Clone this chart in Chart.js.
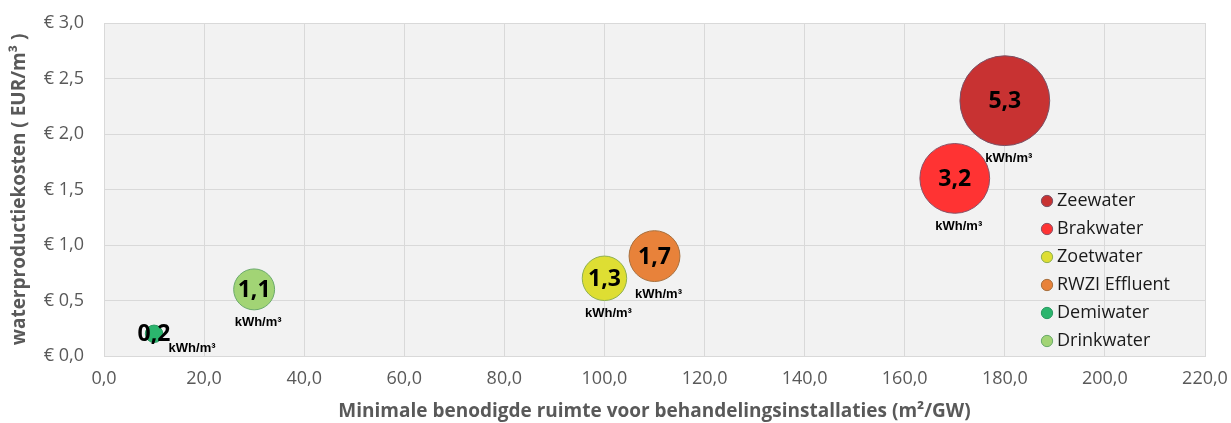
<!DOCTYPE html>
<html>
<head>
<meta charset="utf-8">
<script src="https://cdn.jsdelivr.net/npm/chart.js@4.4.1/dist/chart.umd.min.js"></script>
<style>
  html, body { margin: 0; padding: 0; background: #ffffff; }
</style>
</head>
<body>
<canvas id="bubbleChart" width="1231" height="423"></canvas>
<script>
// Data
const series  = ['Zeewater', 'Brakwater', 'Zoetwater', 'RWZI Effluent', 'Demiwater', 'Drinkwater'];
const ruimte  = [180, 170, 100, 110, 10, 30];          // m2/GW (x)
const kosten  = [2.3, 1.6, 0.7, 0.9, 0.2, 0.6];        // EUR/m3 (y)
const energie = [5.3, 3.2, 1.3, 1.7, 0.2, 1.1];        // kWh/m3 (bubble size)

// Styles
const fills   = ['#c83232', '#ff3333', '#dede33', '#e8823a', '#2bb56d', '#a2d475'];
const borders = ['#7a5266', '#8a5266', '#8fb050', '#a8703e', '#2a9a62', '#6aaa6a'];
const GRID = '#d9d9d9';
const TEXT = '#595959';
const FONT = '"Open Sans", sans-serif';

const fmt = v => v.toFixed(1).replace('.', ',');

// bubble area proportional to energy use
const bubbleRadius = e => 19.5 * Math.sqrt(e);

const datasets = series.map((name, i) => ({
    label: name,
    data: [{ x: ruimte[i], y: kosten[i], r: bubbleRadius(energie[i]) }],
    backgroundColor: fills[i],
    borderColor: borders[i],
    borderWidth: 1
}));

// grijze achtergrond van het plotgebied
const plotBackground = {
    id: 'plotBackground',
    beforeDraw(chart) {
        const { ctx, chartArea: a } = chart;
        ctx.save();
        ctx.fillStyle = '#f2f2f2';
        ctx.fillRect(a.left, a.top, a.right - a.left, a.bottom - a.top);
        ctx.restore();
    }
};

// legenda binnen het plotgebied, rechtsonder
const legendInside = {
    id: 'legendInside',
    afterLayout(chart) {
        const lg = chart.legend;
        lg.left = 1036;
        lg.top = 182;
        lg.bottom = chart.height;
        lg.right = chart.chartArea.right;
    }
};

// waarde-labels in de bubbels
const bubbleLabels = {
    id: 'bubbleLabels',
    afterDatasetsDraw(chart) {
        const ctx = chart.ctx;
        chart.data.datasets.forEach((ds, i) => {
            const meta = chart.getDatasetMeta(i);
            meta.data.forEach(el => {
                const r = el.options.radius;
                ctx.save();
                ctx.fillStyle = '#000000';
                ctx.textAlign = 'center';
                ctx.textBaseline = 'middle';
                ctx.font = 'bold 23px ' + FONT;
                ctx.fillText(fmt(energie[i]), el.x, el.y + 1);
                ctx.font = 'bold 13px "Liberation Sans", Arial, sans-serif';
                if (r < 12) {
                    ctx.fillText('kWh/m³', el.x + 38, el.y + 15);
                } else {
                    ctx.fillText('kWh/m³', el.x + 4, el.y + r + 13);
                }
                ctx.restore();
            });
        });
    }
};

new Chart(document.getElementById('bubbleChart').getContext('2d'), {
    type: 'bubble',
    data: { datasets: datasets },
    options: {
        responsive: false,
        animation: false,
        layout: { autoPadding: false, padding: { left: 0, right: 26, top: 23, bottom: 0 } },
        scales: {
            x: {
                type: 'linear',
                min: 0,
                max: 220,
                afterFit: s => {
                    s.height = 67;
                    s.paddingLeft = 0;
                    s.paddingRight = 0;
                },
                ticks: {
                    stepSize: 20,
                    autoSkip: false,
                    maxRotation: 0,
                    padding: 12,
                    color: TEXT,
                    font: { family: FONT, size: 18 },
                    callback: v => fmt(v)
                },
                grid: { color: GRID, drawTicks: false },
                border: { color: GRID },
                title: {
                    display: true,
                    text: 'Minimale benodigde ruimte voor behandelingsinstallaties (m²/GW)',
                    color: TEXT,
                    font: { family: FONT, size: 19, weight: 'bold' },
                    padding: { top: 0, bottom: 0 }
                }
            },
            y: {
                type: 'linear',
                min: 0,
                max: 3,
                afterFit: s => {
                    s.width = 104;
                    s.paddingTop = 0;
                    s.paddingBottom = 0;
                },
                ticks: {
                    stepSize: 0.5,
                    padding: 20,
                    color: TEXT,
                    font: { family: FONT, size: 18 },
                    callback: v => '€ ' + fmt(v)
                },
                grid: { color: GRID, drawTicks: false },
                border: { color: GRID },
                title: {
                    display: true,
                    text: 'waterproductiekosten ( EUR/m³ )',
                    color: TEXT,
                    font: { family: FONT, size: 19, weight: 'bold' },
                    padding: { top: 8, bottom: 0 }
                }
            }
        },
        plugins: {
            legend: {
                position: 'chartArea',
                align: 'start',
                labels: {
                    usePointStyle: true,
                    boxWidth: 2,
                    boxHeight: 8,
                    padding: 10,
                    color: '#1a1a1a',
                    font: { family: FONT, size: 18 }
                }
            },
            tooltip: { enabled: false }
        }
    },
    plugins: [plotBackground, legendInside, bubbleLabels]
});
</script>
</body>
</html>
